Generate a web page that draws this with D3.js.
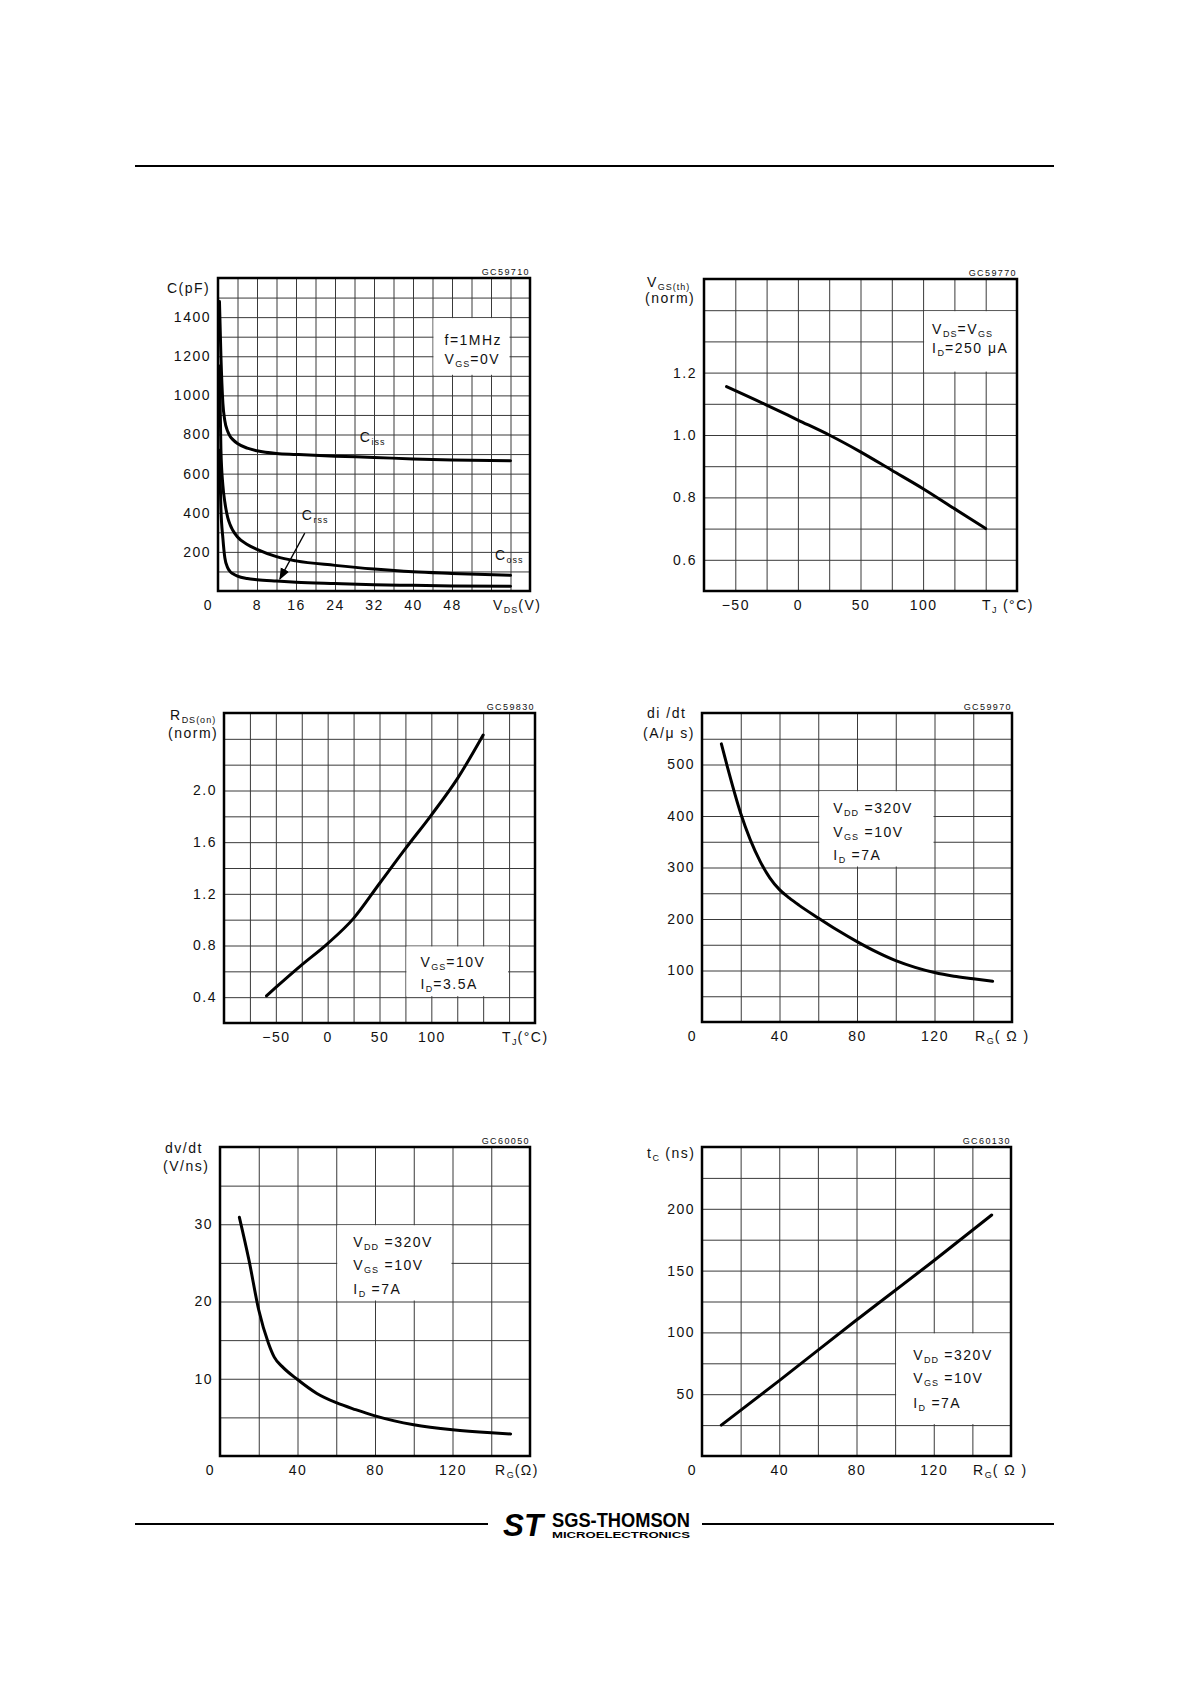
<!DOCTYPE html>
<html lang="en">
<head>
<meta charset="UTF-8">
<title>MOSFET typical characteristics</title>
<script src="https://cdn.jsdelivr.net/npm/d3@7/dist/d3.min.js"></script>
<style>
  * { margin: 0; padding: 0; }
  body { background: #fff; }
  svg { display: block; font-family: "Liberation Sans", Arial, sans-serif; }
  .lbl { font-size: 14px; letter-spacing: 1.5px; fill: #111; }
  .code { font-size: 9px; letter-spacing: 1.4px; fill: #111; }
</style>
</head>
<body>
<svg id="page" width="1192" height="1685"></svg>
<script>
// --- capacitance vs VDS
const capVds = [0.3, 0.6, 1, 1.4, 2, 2.5, 3, 4, 6, 8, 12, 16, 24, 32, 40, 48, 60];
const cissPf = [1480, 1200, 960, 870, 815, 790, 775, 754, 730, 717, 703, 698, 689, 683, 675, 670, 666];
const cossPf = [1150, 720, 540, 455, 375, 338, 312, 276, 238, 213, 176, 154, 131, 112, 98, 90, 80];
const crssPf = [720, 420, 270, 170, 118, 99, 89, 76, 64, 58, 51, 45, 38, 32, 29, 26, 24];

// --- normalized gate threshold vs temperature
const vthTj = [-57, -25, 0, 25, 50, 75, 100, 125, 150];
const vthNorm = [1.155, 1.096, 1.048, 1.0, 0.946, 0.887, 0.828, 0.764, 0.70];

// --- normalized on resistance vs temperature
const rdsTj = [-59, -50, -25, 0, 25, 50, 75, 100, 125, 150];
const rdsNorm = [0.41, 0.475, 0.65, 0.815, 1.01, 1.28, 1.55, 1.81, 2.09, 2.43];

// --- di/dt vs gate resistance
const diRg = [10, 13, 20, 30, 35, 40, 45, 50, 60, 70, 80, 90, 100, 110, 120, 130, 140, 150];
const diVal = [540, 497, 405, 312, 280, 257, 241, 227, 202, 178, 156, 136, 119, 106, 96, 89, 84, 79];

// --- dv/dt vs gate resistance
const dvRg = [10, 15, 20, 25, 28, 32, 40, 50, 60, 70, 80, 90, 100, 120, 140, 150];
const dvVal = [30.9, 25.3, 18.9, 14.6, 12.8, 11.6, 9.9, 8.1, 6.9, 6.0, 5.2, 4.55, 4.05, 3.4, 3.0, 2.85];

// --- crossover time vs gate resistance
const tcRg = [10, 40, 80, 120, 150];
const tcVal = [25, 61, 110, 158, 195];

// tick labels
const capXTicks = [0, 8, 16, 24, 32, 40, 48];
const capYTicks = [200, 400, 600, 800, 1000, 1200, 1400];
const tjTicks = [-50, 0, 50, 100];
const vthYTicks = [0.6, 0.8, 1.0, 1.2];
const rdsYTicks = [0.4, 0.8, 1.2, 1.6, 2.0];
const rgTicks = [0, 40, 80, 120];
const diYTicks = [100, 200, 300, 400, 500];
const dvYTicks = [10, 20, 30];
const tcYTicks = [50, 100, 150, 200];

const svg = d3.select("#page");

// text with subscripts: parts = [[text, isSub], ...]
function rich(sel, parts) {
    let down = false;
    parts.forEach(([t, sub]) => {
        const ts = sel.append("tspan").text(t);
        if (sub && !down) { ts.attr("font-size", 9).attr("dy", 3).attr("letter-spacing", 1); down = true; }
        else if (sub) { ts.attr("font-size", 9).attr("letter-spacing", 1); }
        else if (down) { ts.attr("dy", -3); down = false; }
    });
    return sel;
}

function tickFmt(dec) {
    return d => {
        const s = Math.abs(d).toFixed(dec);
        return d < 0 ? "\u2212" + s : s;
    };
}

function panel(o) {
    const x = d3.scaleLinear().domain(o.xDom).range([o.left, o.right]);
    const y = d3.scaleLinear().domain(o.yDom).range([o.bottom, o.top]);
    const w = o.right - o.left, h = o.bottom - o.top;
    const g = svg.append("g");

    const xGrid = d3.range(Math.round((o.xDom[1] - o.xDom[0]) / o.xStep) + 1).map(i => o.xDom[0] + i * o.xStep);
    const yGrid = d3.range(Math.round((o.yDom[1] - o.yDom[0]) / o.yStep) + 1).map(i => o.yDom[0] + i * o.yStep);

    // grid lines via axes
    g.append("g").attr("transform", `translate(0,${o.bottom})`)
        .call(d3.axisBottom(x).tickValues(xGrid).tickSize(-h).tickFormat(""))
        .call(a => a.select(".domain").remove())
        .selectAll("line").attr("stroke", "#3a3a3a").attr("stroke-width", 1);
    g.append("g").attr("transform", `translate(${o.left},0)`)
        .call(d3.axisLeft(y).tickValues(yGrid).tickSize(-w).tickFormat(""))
        .call(a => a.select(".domain").remove())
        .selectAll("line").attr("stroke", "#3a3a3a").attr("stroke-width", 1);

    // white box behind the conditions text
    if (o.box) {
        g.append("rect")
            .attr("x", x(o.box[0]) + 1).attr("y", y(o.box[3]) + 1)
            .attr("width", x(o.box[1]) - x(o.box[0]) - 2)
            .attr("height", y(o.box[2]) - y(o.box[3]) - 2)
            .attr("fill", "#fff");
    }

    // frame
    g.append("rect").attr("x", o.left).attr("y", o.top).attr("width", w).attr("height", h)
        .attr("fill", "none").attr("stroke", "#000").attr("stroke-width", 2.5);

    // tick labels
    const xa = g.append("g").attr("transform", `translate(0,${o.bottom})`)
        .call(d3.axisBottom(x).tickValues(o.xTicks).tickSize(0).tickPadding(9).tickFormat(tickFmt(0)));
    xa.select(".domain").remove();
    xa.attr("font-size", null).attr("font-family", null);
    xa.selectAll("text").attr("class", "lbl")
        .attr("dx", d => d === o.xDom[0] ? -10 : 0);

    const ya = g.append("g").attr("transform", `translate(${o.left},0)`)
        .call(d3.axisLeft(y).tickValues(o.yTicks).tickSize(0).tickPadding(7).tickFormat(tickFmt(o.yDec || 0)));
    ya.select(".domain").remove();
    ya.attr("font-size", null).attr("font-family", null);
    ya.selectAll("text").attr("class", "lbl");

    // x unit
    rich(g.append("text").attr("class", "lbl").attr("x", o.right - o.xUnitOff).attr("y", o.bottom + 19), o.xUnit);

    // y title lines
    o.yTitle.forEach(t => {
        rich(g.append("text").attr("class", "lbl").attr("x", o.left + t.dx).attr("y", o.top + t.dy), t.parts);
    });

    // code in the corner
    g.append("text").attr("class", "code").attr("x", o.right).attr("y", o.top - 3)
        .attr("text-anchor", "end").text(o.code);

    // conditions
    if (o.notes) {
        o.notes.rows.forEach((r, i) => {
            rich(g.append("text").attr("class", "lbl")
                .attr("x", x(o.box[0]) + o.notes.dx).attr("y", y(o.box[3]) + o.notes.dy[i]), r);
        });
    }

    // curves
    const line = d3.line().x(d => x(d[0])).y(d => y(d[1])).curve(d3.curveMonotoneX);
    o.series.forEach(s => {
        g.append("path").datum(d3.zip(s.xs, s.ys)).attr("d", line)
            .attr("fill", "none").attr("stroke", "#000").attr("stroke-width", 3)
            .attr("stroke-linejoin", "round").attr("stroke-linecap", "round");
    });
    return { x, y, g };
}

const condRows = [
    [["V"], ["DD", true], [" =320V"]],
    [["V"], ["GS", true], [" =10V"]],
    [["I"], ["D", true], [" =7A"]]
];

// 1. capacitance
const p1 = panel({
    left: 218, right: 530, top: 278, bottom: 591,
    xDom: [0, 64], xStep: 4, yDom: [0, 1600], yStep: 100,
    xTicks: capXTicks, yTicks: capYTicks,
    xUnit: [["V"], ["DS", true], ["(V)"]], xUnitOff: 37,
    yTitle: [{ dx: -51, dy: 15, parts: [["C(pF)"]] }],
    code: "GC59710",
    box: [44, 60, 1100, 1400],
    notes: { dx: 12, dy: [28, 47], rows: [[["f=1MHz"]], [["V"], ["GS", true], ["=0V"]]] },
    series: [{ xs: capVds, ys: cissPf }, { xs: capVds, ys: cossPf }, { xs: capVds, ys: crssPf }]
});
const curveNames = [
    { at: [29.1, 762], parts: [["C"], ["iss", true]] },
    { at: [17.2, 363], parts: [["C"], ["rss", true]] },
    { at: [56.8, 158], parts: [["C"], ["oss", true]] }
];
curveNames.forEach(c => {
    rich(p1.g.append("text").attr("class", "lbl").attr("x", p1.x(c.at[0])).attr("y", p1.y(c.at[1])), c.parts);
});
// arrow to Crss
const arrowFrom = [17.8, 296], arrowTo = [12.7, 62];
svg.append("defs").append("marker").attr("id", "ah")
    .attr("viewBox", "0 0 10 10").attr("refX", 9).attr("refY", 5)
    .attr("markerWidth", 9).attr("markerHeight", 9).attr("orient", "auto")
    .append("path").attr("d", "M0,1 L10,5 L0,9 z").attr("fill", "#000");
p1.g.append("line")
    .attr("x1", p1.x(arrowFrom[0])).attr("y1", p1.y(arrowFrom[1]))
    .attr("x2", p1.x(arrowTo[0])).attr("y2", p1.y(arrowTo[1]))
    .attr("stroke", "#000").attr("stroke-width", 1.3).attr("marker-end", "url(#ah)");

// 2. threshold voltage
panel({
    left: 704, right: 1017, top: 279, bottom: 591,
    xDom: [-75, 175], xStep: 25, yDom: [0.5, 1.5], yStep: 0.1, yDec: 1,
    xTicks: tjTicks, yTicks: vthYTicks,
    xUnit: [["T"], ["J", true], [" (°C)"]], xUnitOff: 35,
    yTitle: [{ dx: -57, dy: 8, parts: [["V"], ["GS(th)", true]] }, { dx: -59, dy: 24, parts: [["(norm)"]] }],
    code: "GC59770",
    box: [100, 175, 1.2, 1.4],
    notes: { dx: 9, dy: [24, 43], rows: [[["V"], ["DS", true], ["=V"], ["GS", true]], [["I"], ["D", true], ["=250 μA"]]] },
    series: [{ xs: vthTj, ys: vthNorm }]
});

// 3. on resistance
panel({
    left: 224, right: 535, top: 713, bottom: 1023,
    xDom: [-100, 200], xStep: 25, yDom: [0.2, 2.6], yStep: 0.2, yDec: 1,
    xTicks: tjTicks, yTicks: rdsYTicks,
    xUnit: [["T"], ["J", true], ["(°C)"]], xUnitOff: 33,
    yTitle: [{ dx: -54, dy: 7, parts: [["R"], ["DS(on)", true]] }, { dx: -56, dy: 25, parts: [["(norm)"]] }],
    code: "GC59830",
    box: [75, 175, 0.4, 0.8],
    notes: { dx: 15, dy: [21, 43], rows: [[["V"], ["GS", true], ["=10V"]], [["I"], ["D", true], ["=3.5A"]]] },
    series: [{ xs: rdsTj, ys: rdsNorm }]
});

// 4. di/dt
panel({
    left: 702, right: 1012, top: 713, bottom: 1022,
    xDom: [0, 160], xStep: 20, yDom: [0, 600], yStep: 50,
    xTicks: rgTicks, yTicks: diYTicks,
    xUnit: [["R"], ["G", true], ["( Ω )"]], xUnitOff: 37,
    yTitle: [{ dx: -55, dy: 5, parts: [["di /dt"]] }, { dx: -59, dy: 25, parts: [["(A/μ s)"]] }],
    code: "GC59970",
    box: [60, 120, 300, 450],
    notes: { dx: 15, dy: [23, 47, 70], rows: condRows },
    series: [{ xs: diRg, ys: diVal }]
});

// 5. dv/dt
panel({
    left: 220, right: 530, top: 1147, bottom: 1456,
    xDom: [0, 160], xStep: 20, yDom: [0, 40], yStep: 5,
    xTicks: rgTicks, yTicks: dvYTicks,
    xUnit: [["R"], ["G", true], ["(Ω)"]], xUnitOff: 35,
    yTitle: [{ dx: -55, dy: 6, parts: [["dv/dt"]] }, { dx: -57, dy: 24, parts: [["(V/ns)"]] }],
    code: "GC60050",
    box: [60, 120, 20, 30],
    notes: { dx: 17, dy: [23, 46, 70], rows: condRows },
    series: [{ xs: dvRg, ys: dvVal }]
});

// 6. crossover time
panel({
    left: 702, right: 1011, top: 1147, bottom: 1456,
    xDom: [0, 160], xStep: 20, yDom: [0, 250], yStep: 25,
    xTicks: rgTicks, yTicks: tcYTicks,
    xUnit: [["R"], ["G", true], ["( Ω )"]], xUnitOff: 38,
    yTitle: [{ dx: -55, dy: 11, parts: [["t"], ["C", true], [" (ns)"]] }],
    code: "GC60130",
    box: [100, 160, 25, 100],
    notes: { dx: 18, dy: [28, 51, 76], rows: condRows },
    series: [{ xs: tcRg, ys: tcVal }]
});

// header and footer rules
svg.append("line").attr("x1", 135).attr("x2", 1054).attr("y1", 166).attr("y2", 166)
    .attr("stroke", "#000").attr("stroke-width", 2.2);
svg.append("line").attr("x1", 135).attr("x2", 488).attr("y1", 1524).attr("y2", 1524)
    .attr("stroke", "#000").attr("stroke-width", 2.2);
svg.append("line").attr("x1", 702).attr("x2", 1054).attr("y1", 1524).attr("y2", 1524)
    .attr("stroke", "#000").attr("stroke-width", 2.2);

// logo
svg.append("text").attr("x", 503).attr("y", 1536)
    .attr("font-size", 32).attr("font-weight", 900).attr("font-style", "italic")
    .attr("textLength", 40).attr("lengthAdjust", "spacingAndGlyphs").text("ST");
svg.append("text").attr("x", 552).attr("y", 1527)
    .attr("font-size", 20).attr("font-weight", 700)
    .attr("textLength", 138).attr("lengthAdjust", "spacingAndGlyphs").text("SGS-THOMSON");
svg.append("text").attr("x", 552).attr("y", 1537.5)
    .attr("font-size", 9.5).attr("font-weight", 700)
    .attr("textLength", 138).attr("lengthAdjust", "spacingAndGlyphs").text("MICROELECTRONICS");
</script>
</body>
</html>
